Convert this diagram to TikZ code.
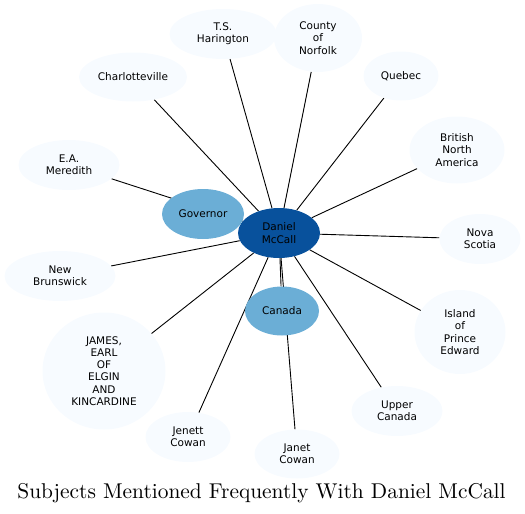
\documentclass[tikz,border=0pt]{standalone}
\usepackage{fontspec}
\newfontfamily\dejavu{DejaVu Sans}
\newfontfamily\titlefont{lmroman10-regular.otf}
\usetikzlibrary{shapes.geometric,backgrounds}
\definecolor{hubblue}{HTML}{08519C}
\definecolor{midblue}{HTML}{6BAED6}
\definecolor{leafblue}{HTML}{F7FBFF}
\begin{document}
\begin{tikzpicture}[x=1pt, y=-1pt, font=\dejavu\fontsize{10.5}{12.2}\selectfont,
	subj/.style={ellipse, inner sep=0pt, align=center, fill=leafblue},
	hub/.style={subj, fill=hubblue},
	freq/.style={subj, fill=midblue},
	link/.style={line width=0.9pt}]
	\useasboundingbox (0,0) rectangle (525,514);
	%center
	\node[hub, minimum width=82, minimum height=50] (dm) at (279,233) {Daniel\\McCall};
	%frequent subjects
	\node[freq, minimum width=82, minimum height=50] (gov) at (203,214) {Governor};
	\node[freq, minimum width=74, minimum height=49] (can) at (282,311) {Canada};
	%other subjects
	\node[subj, minimum width=107, minimum height=50] (tsh) at (223,34) {T.S.\\Harington};
	\node[subj, minimum width=88, minimum height=68] (cno) at (318,38) {County\\of\\Norfolk};
	\node[subj, minimum width=75, minimum height=49] (que) at (401,76) {Quebec};
	\node[subj, minimum width=108, minimum height=49] (cha) at (133,77) {Charlotteville};
	\node[subj, minimum width=101, minimum height=50] (eam) at (69,165) {E.A.\\Meredith};
	\node[subj, minimum width=95, minimum height=67] (bna) at (457,150) {British\\North\\America};
	\node[subj, minimum width=81, minimum height=50] (nsc) at (480,239) {Nova\\Scotia};
	\node[subj, minimum width=111, minimum height=50] (nbr) at (60,276) {New\\Brunswick};
	\node[subj, minimum width=91, minimum height=84] (ipe) at (460,332) {Island\\of\\Prince\\Edward};
	\node[subj, minimum width=123, minimum height=117] (jek) at (104,371) {JAMES,\\EARL\\OF\\ELGIN\\AND\\KINCARDINE};
	\node[subj, minimum width=85, minimum height=50] (jen) at (188,437) {Jenett\\Cowan};
	\node[subj, minimum width=85, minimum height=49] (jan) at (297,454) {Janet\\Cowan};
	\node[subj, minimum width=91, minimum height=50] (upc) at (397,411) {Upper\\Canada};
	%links
	\begin{scope}[on background layer]
		\foreach \n in {gov,can,tsh,cno,que,cha,eam,bna,nsc,nbr,ipe,jek,jen,jan,upc}
		\draw[link] (dm) -- (\n);
	\end{scope}
	%title
	\node[font=\titlefont\fontsize{21.4}{24}\selectfont, anchor=base] (title) at (261.5,498.5)
	{Subjects Mentioned Frequently With Daniel McCall};
\end{tikzpicture}
\end{document}
